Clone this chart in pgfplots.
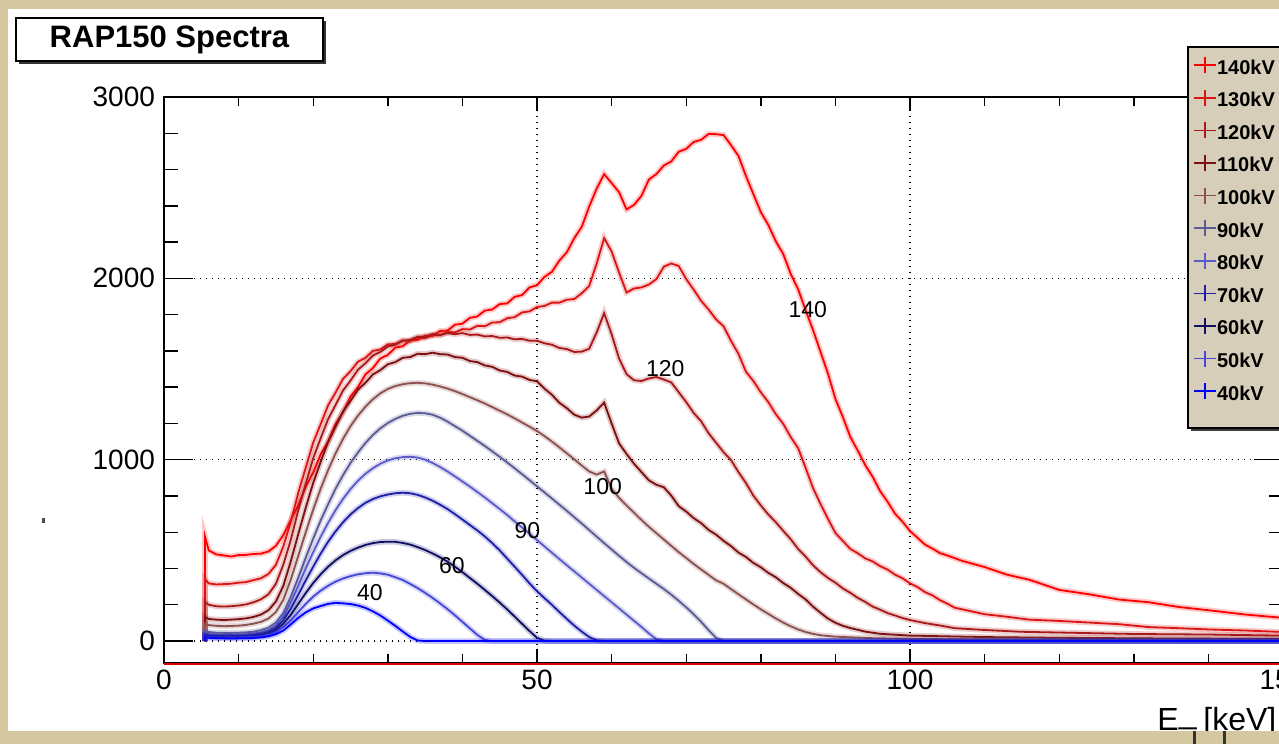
\documentclass[border=0pt]{standalone}
\usepackage{pgfplots}
\pgfplotsset{compat=1.18}
\usepackage{pgfplotstable}
\usepackage{fontspec}
\setmainfont{Liberation Sans}

\definecolor{bg}{RGB}{213,199,160}
\definecolor{legbg}{RGB}{214,206,184}
\definecolor{c140}{RGB}{255,0,0}
\definecolor{c130}{RGB}{220,20,20}
\definecolor{c120}{RGB}{170,25,25}
\definecolor{c110}{RGB}{125,15,15}
\definecolor{c100}{RGB}{140,80,80}
\definecolor{c90}{RGB}{90,90,150}
\definecolor{c80}{RGB}{90,90,200}
\definecolor{c70}{RGB}{30,30,170}
\definecolor{c60}{RGB}{15,15,100}
\definecolor{c50}{RGB}{70,70,220}
\definecolor{c40}{RGB}{0,0,255}

% spectra, counts per bin vs E [keV]
\pgfplotstableread[row sep=\\]{E N\\
5.5 0\\5.5 575\\6 500\\7 478\\8 472\\9 466\\10 474\\11 475\\12 480\\13 482\\14 494\\15 525\\16 585\\17 668\\18 748\\19 850\\20 930\\21 1030\\22 1100\\23 1196\\24 1262\\25 1348\\26 1400\\27 1470\\28 1505\\29 1558\\30 1578\\31 1618\\32 1626\\33 1658\\34 1660\\35 1684\\36 1682\\37 1710\\38 1712\\39 1744\\40 1750\\41 1782\\42 1790\\43 1822\\44 1828\\45 1858\\46 1862\\47 1898\\48 1908\\49 1950\\50 1962\\51 2008\\52 2036\\53 2098\\54 2144\\55 2222\\56 2284\\57 2396\\58 2495\\59 2575\\60 2525\\61 2475\\62 2380\\63 2405\\64 2455\\65 2545\\66 2575\\67 2622\\68 2645\\69 2698\\70 2714\\71 2752\\72 2764\\73 2796\\74 2795\\75 2790\\76 2735\\77 2675\\78 2565\\79 2465\\80 2365\\81 2295\\82 2205\\83 2135\\84 2025\\85 1940\\86 1825\\87 1715\\88 1595\\89 1475\\90 1335\\91 1235\\92 1125\\93 1050\\94 970\\95 905\\96 826\\97 768\\98 702\\99 658\\100 606\\101 570\\102 532\\103 510\\104 485\\105 472\\107 442\\110 408\\113 366\\116 338\\120 282\\124 258\\128 229\\132 214\\136 188\\140 170\\145 146\\150 128\\
}\dA
\pgfplotstableread[row sep=\\]{E N\\
5.5 0\\5.5 340\\6 318\\7 312\\8 314\\9 316\\10 322\\11 325\\12 336\\13 346\\14 370\\15 420\\16 522\\17 658\\18 818\\19 956\\20 1094\\21 1196\\22 1300\\23 1370\\24 1446\\25 1488\\26 1540\\27 1562\\28 1600\\29 1608\\30 1636\\31 1638\\32 1658\\33 1654\\34 1674\\35 1670\\36 1688\\37 1686\\38 1704\\39 1702\\40 1720\\41 1718\\42 1738\\43 1736\\44 1756\\45 1758\\46 1780\\47 1786\\48 1812\\49 1818\\50 1842\\51 1848\\52 1866\\53 1866\\54 1882\\55 1886\\56 1918\\57 1958\\58 2082\\59 2222\\60 2148\\61 2032\\62 1922\\63 1944\\64 1950\\65 1966\\66 1996\\67 2064\\68 2082\\69 2068\\70 1996\\71 1938\\72 1876\\73 1828\\74 1774\\75 1736\\76 1656\\77 1584\\78 1486\\79 1434\\80 1372\\81 1318\\82 1252\\83 1198\\84 1126\\85 1064\\86 956\\87 844\\88 756\\89 674\\90 596\\91 552\\92 508\\93 484\\94 456\\95 439\\96 413\\97 394\\98 366\\99 346\\100 318\\101 298\\102 270\\103 252\\104 226\\105 206\\106 184\\108 166\\110 148\\113 134\\116 118\\120 111\\124 102\\128 93\\132 77\\136 71\\140 64\\145 58\\150 50\\
}\dB
\pgfplotstableread[row sep=\\]{E N\\
5.5 0\\5.5 215\\6 200\\7 192\\8 190\\9 192\\10 196\\11 202\\12 214\\13 230\\14 258\\15 315\\16 422\\17 558\\18 722\\19 868\\20 1008\\21 1118\\22 1224\\23 1302\\24 1382\\25 1436\\26 1496\\27 1532\\28 1574\\29 1594\\30 1624\\31 1634\\32 1656\\33 1660\\34 1678\\35 1678\\36 1692\\37 1688\\38 1698\\39 1692\\40 1698\\41 1688\\42 1690\\43 1680\\44 1682\\45 1672\\46 1674\\47 1664\\48 1666\\49 1656\\50 1656\\51 1642\\52 1634\\53 1616\\54 1610\\55 1594\\56 1596\\57 1612\\58 1702\\59 1808\\60 1692\\61 1558\\62 1472\\63 1438\\64 1434\\65 1448\\66 1456\\67 1442\\68 1426\\69 1372\\70 1318\\71 1258\\72 1212\\73 1146\\74 1094\\75 1042\\76 998\\77 932\\78 872\\79 802\\80 748\\81 698\\82 656\\83 608\\84 562\\85 508\\86 466\\87 418\\88 380\\89 348\\90 322\\91 290\\92 266\\93 238\\94 216\\95 190\\96 173\\97 154\\98 141\\99 127\\100 116\\102 99\\104 86\\106 71\\110 61\\115 51\\120 47\\130 39\\140 36\\150 30\\
}\dC
\pgfplotstableread[row sep=\\]{E N\\
5.5 0\\5.5 132\\6 122\\7 118\\8 116\\9 118\\10 121\\11 125\\12 133\\13 146\\14 170\\15 218\\16 305\\17 440\\18 590\\19 735\\20 872\\21 988\\22 1098\\23 1182\\24 1266\\25 1324\\26 1386\\27 1424\\28 1470\\29 1494\\30 1526\\31 1538\\32 1562\\33 1566\\34 1584\\35 1582\\36 1590\\37 1582\\38 1580\\39 1566\\40 1562\\41 1544\\42 1538\\43 1520\\44 1512\\45 1492\\46 1484\\47 1464\\48 1458\\49 1440\\50 1432\\51 1392\\52 1358\\53 1314\\54 1284\\55 1248\\56 1232\\57 1238\\58 1272\\59 1315\\60 1200\\61 1090\\62 1032\\63 978\\64 932\\65 886\\66 862\\67 848\\68 802\\69 744\\70 714\\71 678\\72 650\\73 613\\74 587\\75 553\\76 524\\77 488\\78 464\\79 431\\80 407\\81 376\\82 352\\83 320\\84 294\\85 260\\86 230\\87 190\\88 156\\89 124\\90 101\\91 84\\92 72\\94 52\\96 40\\100 30\\110 22\\120 18\\135 14\\150 12\\
}\dD
\pgfplotstableread[row sep=\\]{E N\\
5.5 0\\5.5 95\\6 88\\7 84\\8 82\\9 83\\10 85\\11 89\\12 96\\13 106\\14 124\\15 160\\16 228\\17 340\\18 470\\19 600\\20 725\\21 840\\22 943\\23 1035\\24 1115\\25 1185\\26 1243\\27 1292\\28 1333\\29 1366\\30 1390\\31 1406\\32 1416\\33 1422\\34 1424\\35 1421\\36 1414\\37 1404\\38 1392\\39 1378\\40 1362\\41 1345\\42 1328\\43 1310\\44 1290\\45 1270\\46 1250\\47 1228\\48 1205\\49 1182\\50 1158\\51 1130\\52 1100\\53 1068\\54 1035\\55 1002\\56 968\\57 935\\58 918\\59 935\\60 840\\61 790\\62 748\\63 708\\64 668\\65 630\\66 595\\67 560\\68 525\\69 490\\70 458\\71 425\\72 395\\73 365\\74 335\\75 316\\76 287\\77 258\\78 230\\79 202\\80 175\\81 150\\82 125\\83 102\\84 82\\85 64\\86 50\\87 40\\88 32\\90 24\\95 16\\100 12\\110 8\\150 5\\
}\dE
\pgfplotstableread[row sep=\\]{E N\\
5.5 0\\5.5 58\\6 50\\7 46\\8 45\\9 45\\10 46\\11 48\\12 52\\13 60\\14 74\\15 102\\16 155\\17 245\\18 350\\19 460\\20 565\\21 665\\22 755\\23 840\\24 915\\25 982\\26 1040\\27 1092\\28 1136\\29 1173\\30 1202\\31 1225\\32 1242\\33 1253\\34 1258\\35 1256\\36 1248\\37 1232\\38 1210\\39 1185\\40 1160\\41 1132\\42 1104\\43 1076\\44 1046\\45 1016\\46 985\\47 953\\48 920\\49 887\\50 853\\51 820\\52 786\\53 752\\54 718\\55 683\\56 648\\57 612\\58 576\\59 540\\60 505\\61 470\\62 436\\63 404\\64 374\\65 345\\66 316\\67 287\\68 256\\69 222\\70 186\\71 148\\72 106\\73 60\\74 18\\75 0\\150 0\\
}\dF
\pgfplotstableread[row sep=\\]{E N\\
5.5 0\\5.5 44\\6 38\\7 35\\8 34\\9 34\\10 35\\11 37\\12 41\\13 48\\14 60\\15 86\\16 135\\17 215\\18 305\\19 400\\20 490\\21 575\\22 652\\23 722\\24 784\\25 838\\26 884\\27 922\\28 953\\29 978\\30 996\\31 1008\\32 1014\\33 1016\\34 1012\\35 1000\\36 982\\37 960\\38 935\\39 908\\40 880\\41 852\\42 822\\43 792\\44 760\\45 728\\46 695\\47 660\\48 626\\49 592\\50 557\\51 522\\52 487\\53 452\\54 418\\55 384\\56 350\\57 316\\58 282\\59 248\\60 214\\61 180\\62 146\\63 112\\64 78\\65 42\\66 10\\67 0\\150 0\\
}\dG
\pgfplotstableread[row sep=\\]{E N\\
5.5 0\\5.5 34\\6 30\\7 28\\8 27\\9 27\\10 28\\11 30\\12 33\\13 39\\14 50\\15 72\\16 115\\17 180\\18 255\\19 335\\20 410\\21 482\\22 548\\23 605\\24 655\\25 698\\26 733\\27 762\\28 783\\29 798\\30 808\\31 815\\32 818\\33 815\\34 806\\35 792\\36 774\\37 752\\38 728\\39 700\\40 670\\41 640\\42 610\\43 577\\44 540\\45 500\\46 455\\47 410\\48 365\\49 318\\50 275\\51 237\\52 200\\53 160\\54 122\\55 85\\56 52\\57 22\\58 4\\59 0\\150 0\\
}\dH
\pgfplotstableread[row sep=\\]{E N\\
5.5 0\\5.5 30\\6 26\\7 24\\8 23\\9 23\\10 24\\11 25\\12 28\\13 33\\14 42\\15 60\\16 95\\17 145\\18 205\\19 265\\20 320\\21 368\\22 410\\23 445\\24 474\\25 497\\26 515\\27 530\\28 540\\29 546\\30 548\\31 547\\32 541\\33 532\\34 518\\35 502\\36 483\\37 462\\38 438\\39 410\\40 380\\41 348\\42 316\\43 282\\44 248\\45 212\\46 175\\47 135\\48 95\\49 55\\50 18\\51 2\\52 0\\150 0\\
}\dI
\pgfplotstableread[row sep=\\]{E N\\
5.5 0\\5.5 26\\6 22\\7 20\\8 19\\9 19\\10 20\\11 21\\12 23\\13 27\\14 35\\15 50\\16 78\\17 115\\18 160\\19 205\\20 245\\21 278\\22 305\\23 328\\24 345\\25 358\\26 368\\27 374\\28 377\\29 373\\30 366\\31 352\\32 337\\33 315\\34 292\\35 266\\36 238\\37 208\\38 176\\39 142\\40 106\\41 70\\42 34\\43 6\\44 0\\150 0\\
}\dJ
\pgfplotstableread[row sep=\\]{E N\\
5.5 0\\5.5 22\\6 18\\7 16\\8 15\\9 14\\10 15\\11 15\\12 17\\13 20\\14 26\\15 38\\16 58\\17 92\\18 128\\19 158\\20 180\\21 193\\22 205\\23 211\\24 208\\25 204\\26 196\\27 183\\28 164\\29 141\\30 113\\31 84\\32 53\\33 23\\34 3\\35 0\\150 0\\
}\dK

\pgfplotsset{
  spec/.style={line width=0.9pt},
  fuzz/.style={line width=2.8pt, opacity=0.22, forget plot},
}

\begin{document}
\begin{tikzpicture}
\useasboundingbox (0,0) rectangle (639.5pt,372pt);
\fill[bg] (0,0) rectangle (639.5pt,372pt);
\begin{scope}[x=0.5pt,y=-0.5pt,shift={(0pt,372pt)}]
  \fill[white] (8,9) rectangle (1300,731);
  \fill[black!80] (19,21) rectangle (326,64);
  \draw[black, line width=0.8pt, fill=white] (16,18) rectangle (323,61);
  \node[font=\fontsize{15.5}{16}\selectfont\bfseries] at (169.5,40) {RAP150 Spectra};
  \fill[black!70] (42,518) rectangle (45,523);
\end{scope}

% y ticks and labels (longer ticks than on x)
\begin{axis}[
  at={(82pt,40.5pt)}, anchor=south west,
  scale only axis, width=559.5pt, height=283pt,
  xmin=0, xmax=150, ymin=-121, ymax=3000,
  hide x axis,
  ytick={0,1000,2000,3000}, minor y tick num=4,
  tick align=inside, ytick pos=both, yticklabel pos=left,
  major tick length=14.5pt, minor tick length=7pt,
  every tick/.style={black, line width=0.7pt},
  axis line style={black, line width=0.8pt},
  yticklabel style={font=\fontsize{14}{14}\selectfont, xshift=-1pt},
  /pgf/number format/assume math mode=true,
  scaled y ticks=false,
  yticklabel={\pgfmathprintnumber[fixed,1000 sep={}]{\tick}},
]
\end{axis}

\begin{axis}[
  at={(82pt,40.5pt)}, anchor=south west,
  scale only axis, width=559.5pt, height=283pt,
  xmin=0, xmax=150, ymin=-121, ymax=3000,
  clip=false,
  xtick={0,50,100,150}, minor x tick num=4,
  ytick={0,1000,2000,3000}, yticklabels={}, ytick style={draw=none},
  tick align=inside, xtick pos=both, xticklabel pos=lower,
  major tick length=7pt, minor tick length=4.5pt,
  every tick/.style={black, line width=0.7pt},
  axis line style={black, line width=0.8pt},
  xmajorgrids, ymajorgrids,
  grid style={black, line width=0.7pt, dash pattern=on 0.7pt off 2.3pt},
  xticklabel style={font=\fontsize{14}{14}\selectfont},
  /pgf/number format/assume math mode=true,
  legend cell align=left,
  legend image code/.code={
    \draw[#1, line width=0.8pt] (0pt,1pt) -- (11pt,1pt) (5.5pt,-3pt) -- (5.5pt,5pt);
  },
  legend style={
    at={(axis description cs:0.9196,1.0725)}, anchor=north west,
    draw=none, fill=none, inner sep=0pt, row sep=7.4pt,
    font=\fontsize{10}{10}\selectfont\bfseries,
    nodes={inner sep=0pt, text height=7pt, text depth=0pt},
    /tikz/every even column/.append style={column sep=2pt},
  },
]
\addplot[c140, fuzz] table[x=E,y=N]{\dA};
\addplot[c140, spec] table[x=E,y=N]{\dA};
\addlegendentry{140kV}
\addplot[c130, fuzz] table[x=E,y=N]{\dB};
\addplot[c130, spec] table[x=E,y=N]{\dB};
\addlegendentry{130kV}
\addplot[c120, fuzz] table[x=E,y=N]{\dC};
\addplot[c120, spec] table[x=E,y=N]{\dC};
\addlegendentry{120kV}
\addplot[c110, fuzz] table[x=E,y=N]{\dD};
\addplot[c110, spec] table[x=E,y=N]{\dD};
\addlegendentry{110kV}
\addplot[c100, fuzz] table[x=E,y=N]{\dE};
\addplot[c100, spec] table[x=E,y=N]{\dE};
\addlegendentry{100kV}
\addplot[c90, fuzz] table[x=E,y=N]{\dF};
\addplot[c90, spec] table[x=E,y=N]{\dF};
\addlegendentry{90kV}
\addplot[c80, fuzz] table[x=E,y=N]{\dG};
\addplot[c80, spec] table[x=E,y=N]{\dG};
\addlegendentry{80kV}
\addplot[c70, fuzz] table[x=E,y=N]{\dH};
\addplot[c70, spec] table[x=E,y=N]{\dH};
\addlegendentry{70kV}
\addplot[c60, fuzz] table[x=E,y=N]{\dI};
\addplot[c60, spec] table[x=E,y=N]{\dI};
\addlegendentry{60kV}
\addplot[c50, fuzz] table[x=E,y=N]{\dJ};
\addplot[c50, spec] table[x=E,y=N]{\dJ};
\addlegendentry{50kV}
\addplot[c40, fuzz] table[x=E,y=N]{\dK};
\addplot[c40, spec] table[x=E,y=N]{\dK};
\addlegendentry{40kV}
% curve labels
\begin{scope}[font=\fontsize{11.5}{12}\selectfont]
\node at (axis cs:27.6,270) {40};
\node at (axis cs:38.6,414) {60};
\node at (axis cs:48.7,607) {90};
\node at (axis cs:58.8,850) {100};
\node at (axis cs:67.2,1500) {120};
\node at (axis cs:86.3,1826) {140};
\end{scope}
% legend box (under the legend entries)
\fill[black!75] (axis description cs:0.9178,1.0830) rectangle (axis description cs:1.05,0.4100);
\draw[black, line width=0.8pt, fill=legbg] (axis description cs:0.9151,1.0883) rectangle (axis description cs:1.04,0.4152);
\end{axis}

\begin{scope}[x=0.5pt,y=-0.5pt,shift={(0pt,372pt)}]
  \draw[red!85!black, line width=1.2pt] (164,664) -- (1290,664);
  \node[anchor=base west, inner sep=0pt, font=\fontsize{16}{16}\selectfont] at (1157,731) {E\raisebox{4pt}{\_}};
  \node[anchor=base west, inner sep=0pt, font=\fontsize{16}{16}\selectfont] at (1203,731) {[keV]};
  \fill[bg] (0,731) rectangle (1279,744);
  \fill[black!80] (1193,731) rectangle (1195.5,744);
  \fill[black!80] (1223,731) rectangle (1225.5,744);
\end{scope}
\end{tikzpicture}
\end{document}
